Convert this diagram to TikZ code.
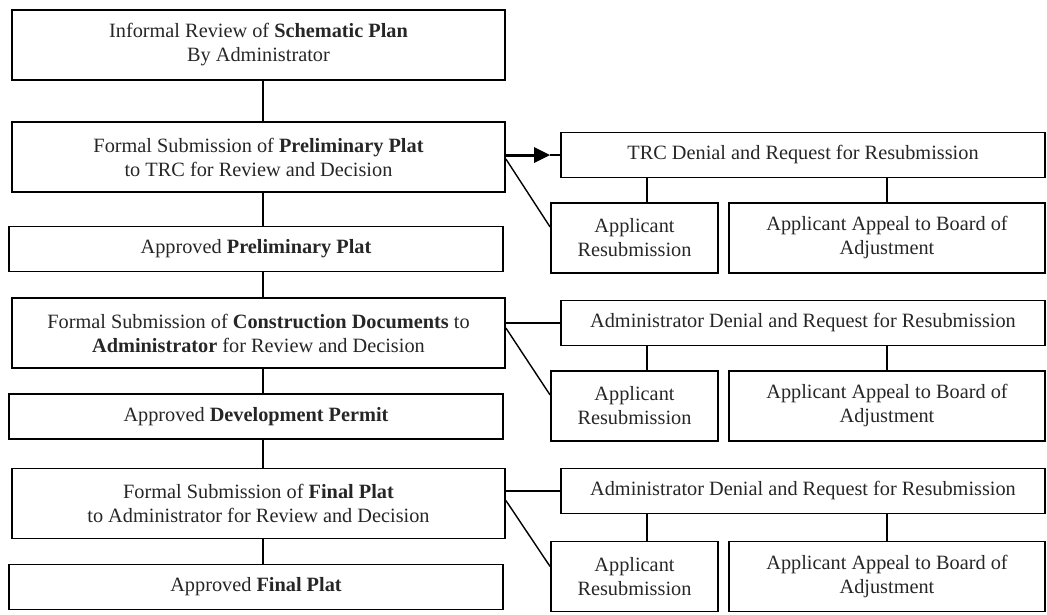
\documentclass[tikz,border=0pt]{standalone}
\usepackage{fontspec}
\setmainfont{Liberation Serif}
\usetikzlibrary{arrows.meta,calc}
\begin{document}
\begin{tikzpicture}[x=1pt,y=-1pt,
  every node/.style={font=\fontsize{20.3}{24}\selectfont, align=center, inner sep=0pt, text=black!85},
  lbox/.style={draw=black, line width=1.8pt, minimum width=493, minimum height=70},
  sbox/.style={draw=black, line width=1.8pt, minimum width=494, minimum height=45},
  dbox/.style={draw=black, line width=1.8pt, minimum width=484, minimum height=45},
  rbox/.style={draw=black, line width=1.8pt, minimum width=167, minimum height=70},
  abox/.style={draw=black, line width=1.8pt, minimum width=316, minimum height=70},
  conn/.style={line width=1.4pt},
  thickconn/.style={line width=3pt}
]
\useasboundingbox (0,0) rectangle (1047,614);
\coordinate (cx) at (263,0);
\coordinate (vx1) at (647,0);
\coordinate (vx2) at (887,0);

% left column
\node[lbox] (b1) at (258.5,45) {Informal Review of \textbf{Schematic Plan}\\By Administrator};
\node[lbox] (b2) at (258.5,157) {Formal Submission of \textbf{Preliminary Plat}\\to TRC for Review and Decision};
\node[sbox] (b3) at (256,249) {Approved \textbf{Preliminary Plat}};
\node[lbox] (b4) at (258.5,333) {Formal Submission of \textbf{Construction Documents} to\\\textbf{Administrator} for Review and Decision};
\node[sbox] (b5) at (256,416.5) {Approved \textbf{Development Permit}};
\node[lbox] (b6) at (258.5,503.5) {Formal Submission of \textbf{Final Plat}\\to Administrator for Review and Decision};
\node[sbox] (b7) at (256,587) {Approved \textbf{Final Plat}};

\draw[conn] (b1.south -| cx) -- (b2.north -| cx);
\draw[conn] (b2.south -| cx) -- (b3.north -| cx);
\draw[conn] (b3.south -| cx) -- (b4.north -| cx);
\draw[conn] (b4.south -| cx) -- (b5.north -| cx);
\draw[conn] (b5.south -| cx) -- (b6.north -| cx);
\draw[conn] (b6.south -| cx) -- (b7.north -| cx);

% row 1
\node[dbox] (d1) at (803,155) {TRC Denial and Request for Resubmission};
\node[rbox] (r1) at (634.5,238) {Applicant\\Resubmission};
\node[abox] (a1) at (887,238) {Applicant Appeal to Board of\\Adjustment};
\coordinate (tip1) at (550,155);
\draw[conn] (tip1) -- (d1.west);
\draw[thickconn,-{Triangle[length=16pt,width=16pt,line width=0pt]}] (b2.east |- d1.west) -- (tip1);
\draw[conn] ($(b2.east)+(0,2)$) -- ($(r1.west)+(0,-11)$);
\draw[conn] (d1.south -| vx1) -- (r1.north -| vx1);
\draw[conn] (d1.south -| vx2) -- (a1.north -| vx2);

% row 2
\node[dbox] (d2) at (803,323) {Administrator Denial and Request for Resubmission};
\node[rbox] (r2) at (634.5,406) {Applicant\\Resubmission};
\node[abox] (a2) at (887,406) {Applicant Appeal to Board of\\Adjustment};
\draw[conn] (b4.east |- d2.west) -- (d2.west);
\draw[conn] ($(b4.east)+(0,-5)$) -- ($(r2.west)+(0,-11)$);
\draw[conn] (d2.south -| vx1) -- (r2.north -| vx1);
\draw[conn] (d2.south -| vx2) -- (a2.north -| vx2);

% row 3
\node[dbox] (d3) at (803,491) {Administrator Denial and Request for Resubmission};
\node[rbox] (r3) at (634.5,576.5) {Applicant\\Resubmission};
\node[abox] (a3) at (887,576.5) {Applicant Appeal to Board of\\Adjustment};
\draw[conn] (b6.east |- d3.west) -- (d3.west);
\draw[conn] ($(b6.east)+(0,-3)$) -- ($(r3.west)+(0,-10)$);
\draw[conn] (d3.south -| vx1) -- (r3.north -| vx1);
\draw[conn] (d3.south -| vx2) -- (a3.north -| vx2);
\end{tikzpicture}
\end{document}
